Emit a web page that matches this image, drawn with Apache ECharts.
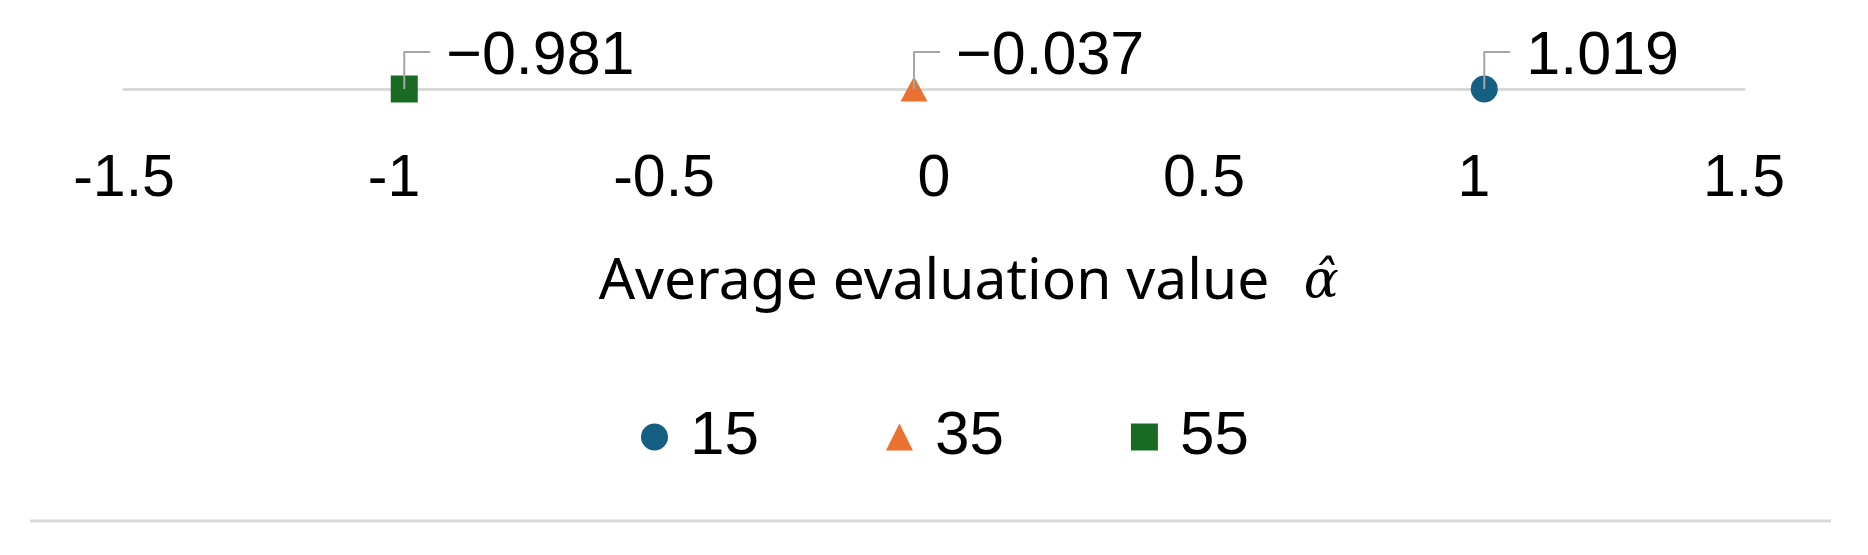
<!DOCTYPE html>
<html>
<head>
<meta charset="utf-8">
<script src="https://cdn.jsdelivr.net/npm/echarts@6/dist/echarts.min.js"></script>
<style>
html,body{margin:0;padding:0;background:#fff;}
#chart{width:1868px;height:555px;}
</style>
</head>
<body>
<div id="chart"></div>
<script>
// ---- data ----
const categories = ['15', '35', '55'];
const values = [1.019, -0.037, -0.981];
const symbols = ['circle', 'triangle', 'rect'];
const colors = ['#156082', '#E97132', '#196B24'];
const axisMin = -1.5;
const axisMax = 1.5;
const axisStep = 0.5;
const axisTitle = 'Average evaluation value';
const axisSymbol = '\u03B1\u0302';

const chart = echarts.init(document.getElementById('chart'));

const scatterSeries = categories.map((c, i) => ({
  name: c,
  type: 'scatter',
  data: [[values[i], 0]],
  symbol: symbols[i],
  symbolSize: symbols[i] === 'triangle' ? [27, 25] : 27,
  itemStyle: { color: colors[i], opacity: 1 },
  clip: false,
  z: 3
}));

const leaderSeries = {
  name: 'labels',
  type: 'custom',
  data: values.map(v => [v, 0]),
  clip: false,
  z: 5,
  silent: true,
  renderItem: function (params, api) {
    const v = api.value(0);
    const p = api.coord([v, 0]);
    const x = p[0], y = p[1];
    const txt = (v < 0 ? '\u2212' : '') + Math.abs(v).toFixed(3);
    return {
      type: 'group',
      children: [
        {
          type: 'polyline',
          shape: { points: [[x, y], [x, y - 37], [x + 26, y - 37]] },
          style: { stroke: '#a6a6a6', lineWidth: 2, fill: null }
        },
        {
          type: 'text',
          style: {
            x: x + 42, y: y - 32, text: txt,
            fontSize: 61, fontFamily: '"Liberation Sans", Arial, sans-serif',
            fill: '#000', align: 'left', verticalAlign: 'middle'
          }
        }
      ]
    };
  }
};

chart.setOption({
  backgroundColor: '#fff',
  animation: false,
  grid: { left: 124, right: 124, top: 20, height: 69 },
  xAxis: {
    type: 'value',
    min: axisMin, max: axisMax, interval: axisStep,
    axisLine: { show: true, onZero: false, lineStyle: { color: '#d9d9d9', width: 3 } },
    axisTick: { show: false },
    splitLine: { show: false },
    axisLabel: {
      margin: 61,
      color: '#000',
      fontSize: 59,
      fontFamily: '"Liberation Sans", Arial, sans-serif'
    },
    name: '{t|' + axisTitle + '}{a|' + axisSymbol + '}',
    nameLocation: 'middle',
    nameGap: 164,
    nameTextStyle: {
      rich: {
        t: { fontSize: 57, fontFamily: '"Noto Sans", sans-serif', color: '#000', lineHeight: 60, padding: [0, 0, 0, 72] },
        a: { fontSize: 52, fontFamily: '"DejaVu Serif", serif', fontStyle: 'italic', color: '#000', lineHeight: 60, width: 40, padding: [0, 0, 0, 32] }
      }
    }
  },
  yAxis: { type: 'value', min: 0, max: 1, show: false },
  legend: {
    data: categories,
    left: 641,
    top: 406,
    padding: 0,
    itemWidth: 27,
    itemHeight: 27,
    itemGap: 127,
    textStyle: { fontSize: 62, fontFamily: '"Liberation Sans", Arial, sans-serif', color: '#000', padding: [0, 0, 0, 17] }
  },
  graphic: [{
    type: 'line',
    shape: { x1: 30, y1: 521, x2: 1831, y2: 521 },
    style: { stroke: '#d9d9d9', lineWidth: 3 },
    silent: true
  }],
  series: scatterSeries.concat([leaderSeries])
});
</script>
</body>
</html>
